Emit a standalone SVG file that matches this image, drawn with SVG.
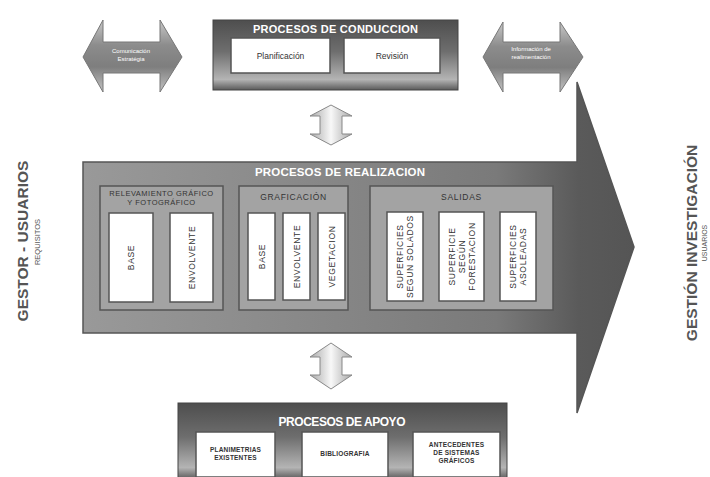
<svg xmlns="http://www.w3.org/2000/svg" width="710" height="477" viewBox="0 0 710 477">
<defs>
<linearGradient id="metal" x1="0" y1="0" x2="0" y2="1">
<stop offset="0" stop-color="#4e4e4e"/>
<stop offset="0.45" stop-color="#6e6e6e"/>
<stop offset="0.85" stop-color="#b4b4b4"/>
<stop offset="1" stop-color="#5a5a5a"/>
</linearGradient>
<linearGradient id="dbl" x1="0" y1="0" x2="0" y2="1">
<stop offset="0" stop-color="#c8c8c8"/>
<stop offset="0.35" stop-color="#8c8c8c"/>
<stop offset="0.65" stop-color="#7e7e7e"/>
<stop offset="1" stop-color="#c4c4c4"/>
</linearGradient>
<linearGradient id="ud" x1="0" y1="0" x2="1" y2="0">
<stop offset="0" stop-color="#a8a8a8"/>
<stop offset="0.5" stop-color="#f8f8f8"/>
<stop offset="1" stop-color="#a8a8a8"/>
</linearGradient>
<linearGradient id="big" x1="83" y1="0" x2="634" y2="0" gradientUnits="userSpaceOnUse">
<stop offset="0" stop-color="#999"/>
<stop offset="0.75" stop-color="#7a7a7a"/>
<stop offset="0.9" stop-color="#5a5a5a"/>
<stop offset="1" stop-color="#555"/>
</linearGradient>
<style>
.ttl{font-family:"Liberation Sans",Arial,sans-serif;font-weight:bold;fill:#fff;text-anchor:middle}
.wb{fill:#fff;stroke:#555;stroke-width:1.5}
.pan{fill:#a3a3a3;stroke:#555;stroke-width:1.5}
.lbl{font-family:"Liberation Sans",Arial,sans-serif;fill:#333;text-anchor:middle;font-size:8.5px}
.pt{font-family:"Liberation Sans",Arial,sans-serif;fill:#333;text-anchor:middle;font-size:7.5px;letter-spacing:0.5px}
.pt2{font-family:"Liberation Sans",Arial,sans-serif;fill:#333;text-anchor:middle;font-size:8.5px;letter-spacing:0.7px}
.bl{font-family:"Liberation Sans",Arial,sans-serif;fill:#333;text-anchor:middle;font-size:6.5px;font-weight:bold;letter-spacing:0.2px}
.vl{font-family:"Liberation Sans",Arial,sans-serif;fill:#333;text-anchor:middle;font-size:8.5px;letter-spacing:0.7px}
.sm{font-family:"Liberation Sans",Arial,sans-serif;fill:#fff;text-anchor:middle;font-size:6px}
.side{font-family:"Liberation Sans",Arial,sans-serif;fill:#555;text-anchor:middle;font-weight:bold;font-size:15.5px}
.sub{font-family:"Liberation Sans",Arial,sans-serif;fill:#555;text-anchor:middle;font-size:7.5px}
</style>
</defs>
<rect width="710" height="477" fill="#fff"/>

<g id="realizacion">
<path d="M83,162 L577,162 L577,82 L634,247 L577,413 L577,333 L83,333 Z" fill="url(#big)" stroke="#555" stroke-width="1.5"/>
<text class="ttl" x="340" y="176" font-size="11.5" textLength="170">PROCESOS DE REALIZACION</text>
</g>

<g id="relevamiento">
<rect class="pan" x="100" y="186" width="123" height="124"/>
<text class="pt" x="161.5" y="196">RELEVAMIENTO GRÁFICO</text>
<text class="pt" x="161.5" y="205">Y FOTOGRÁFICO</text>
<rect class="wb" x="109" y="213" width="44" height="89"/>
<text class="vl" transform="translate(131,257.5) rotate(-90)" dy="3">BASE</text>
<rect class="wb" x="170" y="213" width="43" height="89"/>
<text class="vl" transform="translate(191.5,257.5) rotate(-90)" dy="3">ENVOLVENTE</text>
</g>

<g id="graficacion">
<rect class="pan" x="239" y="186" width="109" height="124"/>
<text class="pt2" x="293.5" y="200">GRAFICACIÓN</text>
<rect class="wb" x="248" y="213" width="27" height="87"/>
<text class="vl" transform="translate(261.5,256.5) rotate(-90)" dy="3">BASE</text>
<rect class="wb" x="283" y="213" width="27" height="87"/>
<text class="vl" transform="translate(296.5,256.5) rotate(-90)" dy="3">ENVOLVENTE</text>
<rect class="wb" x="318" y="213" width="27" height="87"/>
<text class="vl" transform="translate(331.5,256.5) rotate(-90)" dy="3">VEGETACION</text>
</g>

<g id="salidas">
<rect class="pan" x="370" y="186" width="183" height="124"/>
<text class="pt2" x="461.5" y="200">SALIDAS</text>
<rect class="wb" x="387" y="212" width="36" height="89"/>
<text class="vl" transform="translate(405,256.5) rotate(-90)"><tspan x="0" dy="-2">SUPERFICIES</tspan><tspan x="0" dy="10">SEGUN SOLADOS</tspan></text>
<rect class="wb" x="439" y="212" width="45" height="89"/>
<text class="vl" transform="translate(461.5,256.5) rotate(-90)"><tspan x="0" dy="-7">SUPERFICIE</tspan><tspan x="0" dy="10">SEGÚN</tspan><tspan x="0" dy="10">FORESTACION</tspan></text>
<rect class="wb" x="500" y="212" width="36" height="89"/>
<text class="vl" transform="translate(518,256.5) rotate(-90)"><tspan x="0" dy="-2">SUPERFICIES</tspan><tspan x="0" dy="10">ASOLEADAS</tspan></text>
</g>

<g id="conduccion">
<rect x="213" y="20" width="245" height="70" fill="url(#metal)" stroke="#444" stroke-width="1"/>
<text class="ttl" x="335.5" y="33" font-size="11" textLength="165">PROCESOS DE CONDUCCION</text>
<rect class="wb" x="231" y="38" width="99" height="35" stroke="#444"/>
<text class="lbl" x="280.5" y="59">Planificación</text>
<rect class="wb" x="344" y="38" width="96" height="35" stroke="#444"/>
<text class="lbl" x="392" y="59">Revisión</text>
</g>

<g id="comunicacion">
<path d="M83,57 L103,20 L103,42 L160,42 L160,20 L182,57 L160,92 L160,73 L103,73 L103,92 Z" fill="url(#dbl)" stroke="#777" stroke-width="1"/>
<text class="sm" x="131" y="53">Comunicación</text>
<text class="sm" x="131" y="61">Estratégia</text>
</g>

<g id="informacion">
<path d="M483,57 L503,22 L503,42 L560,42 L560,22 L583,57 L560,92 L560,73 L503,73 L503,92 Z" fill="url(#dbl)" stroke="#777" stroke-width="1"/>
<text class="sm" x="531" y="51">Información de</text>
<text class="sm" x="531" y="59">realimentación</text>
</g>

<g id="connectors">
<path d="M331,105 L352,116 L342,116 L342,134 L352,134 L331,145 L310,134 L320,134 L320,116 L310,116 Z" fill="url(#ud)" stroke="#888" stroke-width="1"/>
<path d="M331,343 L352,357 L342,357 L342,375 L352,375 L331,389 L310,375 L320,375 L320,357 L310,357 Z" fill="url(#ud)" stroke="#888" stroke-width="1"/>
</g>

<g id="apoyo">
<rect x="178" y="403" width="329" height="76" fill="url(#metal)" stroke="#444" stroke-width="1"/>
<text class="ttl" x="342" y="426" font-size="12" textLength="127">PROCESOS DE APOYO</text>
<rect class="wb" x="196" y="432" width="79" height="45" stroke="#444"/>
<text class="bl" x="235.5" y="452">PLANIMETRIAS</text>
<text class="bl" x="235.5" y="460">EXISTENTES</text>
<rect class="wb" x="302" y="432" width="86" height="45" stroke="#444"/>
<text class="bl" x="345" y="456">BIBLIOGRAFIA</text>
<rect class="wb" x="413" y="432" width="87" height="45" stroke="#444"/>
<text class="bl" x="456.5" y="447">ANTECEDENTES</text>
<text class="bl" x="456.5" y="455">DE SISTEMAS</text>
<text class="bl" x="456.5" y="463">GRÁFICOS</text>
</g>

<g id="gestor">
<text class="side" transform="translate(28,241) rotate(-90)">GESTOR - USUARIOS</text>
<text class="sub" transform="translate(40,242) rotate(-90)">REQUISITOS</text>
</g>

<g id="gestion">
<text class="side" transform="translate(697,243) rotate(-90)">GESTIÓN INVESTIGACIÓN</text>
<text class="sub" transform="translate(707,243) rotate(-90)" style="font-size:7px">USUARIOS</text>
</g>
</svg>
